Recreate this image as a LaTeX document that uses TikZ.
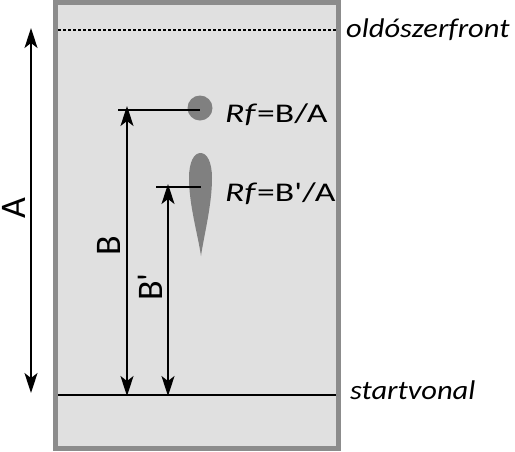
\documentclass[tikz,border=0pt]{standalone}
\usepackage{fontspec}
\setmainfont{Carlito}[Ligatures=TeXOff]
\newfontfamily\plateFont{Carlito}[Ligatures=TeXOff, FakeStretch=1.13]
\newfontfamily\rfFont{Carlito}[Ligatures=TeXOff, FakeStretch=1.32]
\usepackage{xcolor}
\usetikzlibrary{arrows.meta, calc}
\definecolor{plateGray}{HTML}{E0E0E0}
\definecolor{frameGray}{HTML}{8C8C8C}
\definecolor{spotGray}{HTML}{808080}

\begin{document}
\begin{tikzpicture}[x=1pt, y=-1pt, >={Stealth[length=20pt, width=13pt, inset=5pt]}, every node/.style={inner sep=0pt}, dim/.style={line width=1.5pt}, edgeLabel/.style={font=\plateFont\itshape\fontsize{27}{30}\selectfont, anchor=base west}, rfLabel/.style={font=\rfFont\fontsize{27}{30}\selectfont, anchor=base west}, lenLabel/.style={font=\fontsize{36}{40}\selectfont, rotate=90}]
  \useasboundingbox (0,0) rectangle (515,451);
  \draw[line width=5pt, draw=frameGray, fill=plateGray] (55.5,2.5) rectangle (338.5,448.5);
  \coordinate (frontLeft) at (58,30);
  \coordinate (frontRight) at (336,30);
  \coordinate (startLeft) at (58,395);
  \coordinate (startRight) at (336,395);
  \draw[line width=2.8pt, dash pattern=on 2.6pt off 2.4pt] (frontLeft) -- (frontRight);
  \draw[line width=2.8pt] (startLeft) -- (startRight);
  \node[edgeLabel] (frontLabel) at (346,37) {oldószerfront};
  \node[edgeLabel] (startLabel) at (350,399) {startvonal};
  \node[circle, fill=spotGray, minimum width=23pt, minimum height=25pt] (spotB) at (200,108) {};
  \fill[spotGray] (201,256) .. controls (198,235) and (189,205) .. (189,178) .. controls (189,162) and (194,153) .. (200.5,153) .. controls (207,153) and (212,162) .. (212,178) .. controls (212,205) and (204,235) .. (201,256) -- cycle;
  \coordinate (spotBPrime) at (201,187);
  \coordinate (tickB) at (118,110);
  \coordinate (tickBPrime) at (156,187);
  \draw[dim] (tickB) -- (tickB -| spotB);
  \draw[dim] (tickBPrime) -- (spotBPrime);
  \coordinate (arrowATop) at (31,28);
  \coordinate (arrowABottom) at (31,393);
  \draw[dim, <->] (arrowABottom) -- (arrowATop);
  \draw[dim, <->] (127,396) -- (127,106);
  \draw[dim, <->] (168,396) -- (168,184);
  \node[lenLabel] (labelA) at (14,208) {A};
  \node[lenLabel] (labelB) at (109,245.5) {B};
  \node[lenLabel] (labelBPrime) at (150.5,287) {B'};
  \node[rfLabel] (rfB) at (225,122) {\textit{Rf}=B/A};
  \node[rfLabel] (rfBPrime) at (225,201) {\textit{Rf}=B'/A};
\end{tikzpicture}
\end{document}
